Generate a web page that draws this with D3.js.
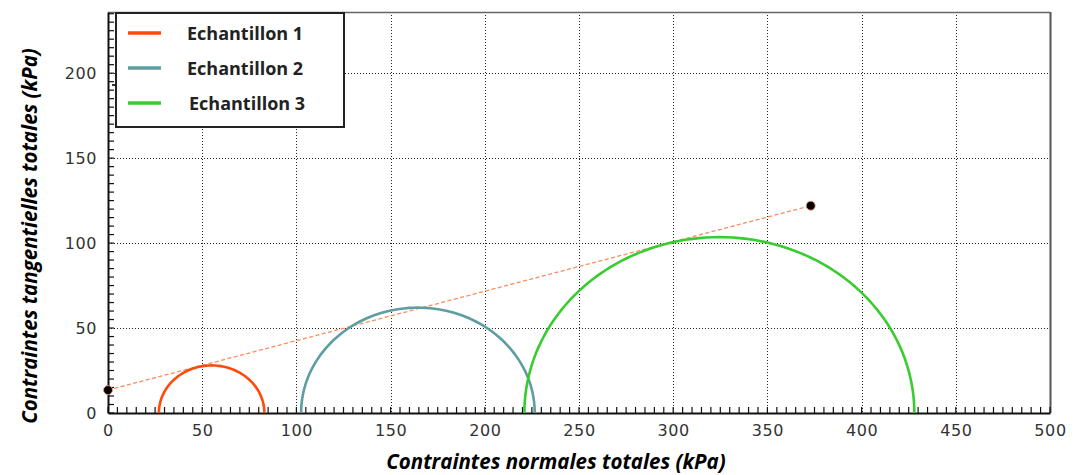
<!DOCTYPE html>
<html><head><meta charset="utf-8">
<script src="https://cdn.jsdelivr.net/npm/d3@7"></script>
<style>
html,body{margin:0;padding:0;background:#fff;}
svg{display:block;}
</style></head>
<body>
<svg id="chart" width="1085" height="475"></svg>
<script>
// ---- data ----
const sampleNames = ["Echantillon 1", "Echantillon 2", "Echantillon 3"];
const sampleColors = ["#ff4a0a", "#5e9ea0", "#38cc30"];
const circleCenters = [55, 164.5, 324.5];   // kPa (sigma)
const circleRadii = [28, 62, 103.5];        // kPa
const envelopeSigma = [0, 373];             // kPa
const envelopeTau = [13.5, 122];            // kPa
const xTickValues = [0, 50, 100, 150, 200, 250, 300, 350, 400, 450, 500];
const yTickValues = [0, 50, 100, 150, 200];
const xTitle = "Contraintes normales totales (kPa)";
const yTitle = "Contraintes tangentielles totales (kPa)";

const svg = d3.select("#chart");
const L = 108, R = 1050, T = 12, B = 413;
const x = d3.scaleLinear().domain([0, 500]).range([L, R]);
const y = d3.scaleLinear().domain([0, 236]).range([B, T]);

// grid
const grid = svg.append("g").attr("stroke", "#222").attr("stroke-width", 1).attr("stroke-dasharray", "1,2");
grid.selectAll("line.v").data(xTickValues.filter(v => v > 0 && v < 500)).join("line")
  .attr("x1", d => Math.round(x(d)) + 0.5).attr("x2", d => Math.round(x(d)) + 0.5)
  .attr("y1", T).attr("y2", B);
grid.selectAll("line.h").data(yTickValues.filter(v => v > 0)).join("line")
  .attr("y1", d => Math.round(y(d)) + 0.5).attr("y2", d => Math.round(y(d)) + 0.5)
  .attr("x1", L).attr("x2", R);

// frame top/right
svg.append("line").attr("x1", L).attr("x2", R).attr("y1", T + 0.5).attr("y2", T + 0.5).attr("stroke", "#666").attr("stroke-width", 1.5);
svg.append("line").attr("x1", R + 0.5).attr("x2", R + 0.5).attr("y1", T).attr("y2", B).attr("stroke", "#555").attr("stroke-width", 2);

// axes
const xAxis = d3.axisBottom(x).tickValues(xTickValues).tickSize(0).tickPadding(12);
const gx = svg.append("g").attr("transform", `translate(0,${B})`).call(xAxis);
gx.select(".domain").attr("stroke", "#111").attr("stroke-width", 2);
gx.selectAll("text").attr("font-family", "DejaVu Sans").attr("font-size", 16).attr("fill", "#333").attr("letter-spacing", "0.6px");
const xMinor = d3.range(0, 501, 5);
svg.append("g").selectAll("line").data(xMinor).join("line")
  .attr("x1", d => x(d)).attr("x2", d => x(d)).attr("y1", B).attr("y2", B - 6)
  .attr("stroke", "#111").attr("stroke-width", 1.2);

const yAxis = d3.axisLeft(y).tickValues(yTickValues).tickSize(0).tickPadding(11);
const gy = svg.append("g").attr("transform", `translate(${L},0)`).call(yAxis);
gy.select(".domain").attr("stroke", "#111").attr("stroke-width", 2);
gy.selectAll("text").attr("font-family", "DejaVu Sans").attr("font-size", 16).attr("fill", "#333").attr("letter-spacing", "0.6px");
const yMinor = d3.range(0, 236, 5);
svg.append("g").selectAll("line").data(yMinor).join("line")
  .attr("y1", d => y(d)).attr("y2", d => y(d)).attr("x1", L).attr("x2", L + 6)
  .attr("stroke", "#111").attr("stroke-width", 1.2);

// envelope line
svg.append("line")
  .attr("x1", x(envelopeSigma[0])).attr("y1", y(envelopeTau[0]))
  .attr("x2", x(envelopeSigma[1])).attr("y2", y(envelopeTau[1]))
  .attr("stroke", "#ff8a5c").attr("stroke-width", 1.3).attr("stroke-dasharray", "4,2.5");

// Mohr half-circles
const angles = d3.range(0, 181, 2).map(a => a * Math.PI / 180);
const lineGen = d3.line().x(d => x(d[0])).y(d => y(d[1]));
sampleNames.forEach((name, i) => {
  const pts = angles.map(a => [circleCenters[i] + circleRadii[i] * Math.cos(a), circleRadii[i] * Math.sin(a)]);
  svg.append("path").datum(pts).attr("d", lineGen)
    .attr("fill", "none").attr("stroke", sampleColors[i]).attr("stroke-width", 2.6);
});

// envelope end points
svg.append("g").selectAll("circle").data(envelopeSigma.map((s, i) => [s, envelopeTau[i]])).join("circle")
  .attr("cx", d => x(d[0])).attr("cy", d => y(d[1])).attr("r", 4.5)
  .attr("fill", "#000").attr("stroke", "#ff9b7a").attr("stroke-width", 0.8);

// small stray dash at the left of the legend (present in the reference)
svg.append("line").attr("x1", 112).attr("x2", 128).attr("y1", 85).attr("y2", 85)
  .attr("stroke", "#333").attr("stroke-width", 2);

// legend
const lg = svg.append("g");
lg.append("rect").attr("x", 116).attr("y", 13).attr("width", 228).attr("height", 114)
  .attr("fill", "#fff").attr("stroke", "#222").attr("stroke-width", 2);
const legY = [33, 68, 103];
const legTX = [187, 187, 189];
sampleNames.forEach((name, i) => {
  lg.append("line").attr("x1", 128).attr("x2", 161).attr("y1", legY[i]).attr("y2", legY[i])
    .attr("stroke", sampleColors[i]).attr("stroke-width", 3.5);
  lg.append("text").attr("x", legTX[i]).attr("y", legY[i] + 6.5).text(name)
    .attr("font-family", "Open Sans").attr("font-weight", "bold").attr("font-size", 18).attr("fill", "#222");
});

// axis titles
svg.append("text").attr("x", 556).attr("y", 469).attr("text-anchor", "middle").text(xTitle)
  .attr("font-family", "Open Sans").attr("font-weight", "bold").attr("font-style", "italic")
  .attr("font-size", 20.5).attr("fill", "#000");
svg.append("text").attr("transform", "translate(37,236) rotate(-90)").attr("text-anchor", "middle").text(yTitle)
  .attr("font-family", "Open Sans").attr("font-weight", "bold").attr("font-style", "italic")
  .attr("font-size", 20.5).attr("fill", "#000");
</script>
</body></html>
